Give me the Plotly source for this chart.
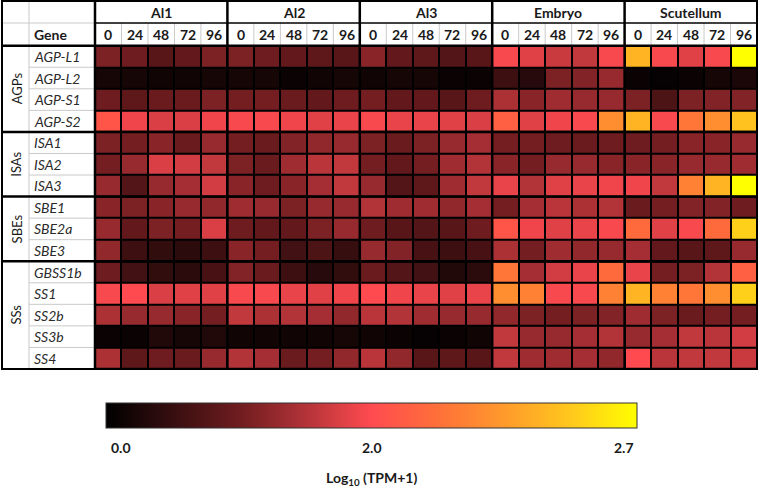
import plotly.graph_objects as go

W, H = 763, 492

genes = ["AGP-L1", "AGP-L2", "AGP-S1", "AGP-S2", "ISA1", "ISA2", "ISA3",
         "SBE1", "SBE2a", "SBE3", "GBSS1b", "SS1", "SS2b", "SS3b", "SS4"]
families = [("AGPs", 0, 3), ("ISAs", 4, 6), ("SBEs", 7, 9), ("SSs", 10, 14)]
tissues = ["Al1", "Al2", "Al3", "Embryo", "Scutellum"]
hours = ["0", "24", "48", "72", "96"]

# log10(TPM+1), rows = genes, cols = hours
al1 = [[1.1, 1.0, 0.8, 0.9, 1.1], [0.2, 0.2, 0.15, 0.15, 0.2], [1.0, 0.85, 0.95, 0.95, 1.1],
       [2.05, 1.9, 1.75, 1.75, 1.9], [1.1, 1.05, 1.2, 0.95, 1.3], [1.05, 1.3, 1.75, 1.7, 1.6],
       [1.3, 0.75, 1.3, 1.4, 1.7], [1.2, 1.1, 1.2, 1.3, 1.25], [1.3, 0.9, 1.1, 1.05, 1.75],
       [1.25, 0.55, 0.45, 0.4, 0.55], [1.0, 0.6, 0.45, 0.4, 0.65], [1.95, 2.0, 1.75, 1.8, 1.8],
       [1.45, 1.3, 1.3, 1.2, 1.05], [0.1, 0.1, 0.3, 0.2, 0.3], [1.45, 0.85, 1.0, 0.95, 1.3]]
al2 = [[1.1, 1.0, 0.9, 0.85, 0.8], [0.2, 0.2, 0.1, 0.15, 0.2], [1.05, 1.05, 0.95, 0.9, 1.0],
       [1.95, 1.95, 1.9, 1.8, 1.85], [1.05, 0.95, 1.15, 1.25, 1.3], [1.1, 0.95, 1.35, 1.55, 1.6],
       [1.2, 1.0, 1.2, 1.4, 1.6], [1.35, 1.3, 1.1, 1.3, 1.3], [1.0, 0.9, 0.9, 1.1, 1.3],
       [1.2, 1.05, 0.6, 0.7, 0.5], [1.15, 0.95, 0.55, 0.35, 0.45], [1.95, 1.95, 1.85, 1.8, 1.9],
       [1.6, 1.45, 1.5, 1.4, 1.25], [0.15, 0.15, 0.15, 0.15, 0.2], [1.5, 1.4, 0.95, 1.05, 1.25]]
al3 = [[1.2, 0.9, 0.85, 0.75, 0.8], [0.15, 0.2, 0.2, 0.1, 0.1], [1.05, 0.9, 0.9, 0.8, 1.0],
       [1.95, 1.85, 1.85, 1.8, 1.75], [1.1, 0.95, 1.1, 1.3, 1.4], [1.05, 0.9, 1.05, 1.35, 1.5],
       [1.3, 0.75, 0.85, 1.35, 1.6], [1.5, 1.35, 1.35, 1.25, 1.4], [1.0, 0.8, 0.75, 0.8, 1.0],
       [1.3, 1.15, 0.65, 0.55, 0.65], [0.95, 0.75, 0.6, 0.3, 0.4], [2.0, 1.9, 1.85, 1.8, 1.85],
       [1.55, 1.5, 1.35, 1.3, 1.3], [0.15, 0.1, 0.05, 0.1, 0.15], [1.55, 1.25, 0.8, 0.85, 0.8]]
embryo = [[1.95, 1.8, 1.65, 1.6, 1.95], [0.55, 0.35, 1.1, 1.15, 1.3], [1.45, 1.2, 1.35, 1.3, 1.3],
          [2.1, 1.8, 1.9, 1.95, 2.3], [1.05, 1.05, 1.0, 0.95, 1.0], [1.2, 1.05, 1.3, 1.3, 1.2],
          [1.85, 1.5, 1.8, 1.85, 1.9], [1.05, 1.4, 1.55, 1.45, 1.5], [2.05, 1.9, 1.8, 1.85, 1.95],
          [1.45, 1.05, 1.35, 1.25, 1.3], [2.2, 1.4, 1.7, 1.85, 2.15], [2.3, 2.25, 1.95, 1.95, 2.25],
          [1.25, 1.1, 1.05, 1.1, 1.15], [1.6, 1.3, 1.3, 1.4, 1.5], [1.6, 1.35, 1.35, 1.4, 1.25]]
scutellum = [[2.45, 1.95, 1.8, 1.95, 2.7], [0.1, 0.05, 0.1, 0.2, 0.25], [1.1, 0.7, 1.1, 1.15, 1.15],
             [2.45, 1.95, 2.2, 2.3, 2.5], [1.0, 1.05, 1.2, 1.2, 1.3], [1.2, 1.2, 1.3, 1.3, 1.35],
             [1.9, 1.6, 2.25, 2.45, 2.7], [0.95, 1.05, 1.15, 1.15, 1.0], [2.15, 1.8, 1.95, 2.15, 2.55],
             [1.4, 0.9, 0.8, 0.85, 1.3], [1.85, 1.05, 1.1, 1.5, 2.1], [2.45, 2.25, 2.2, 2.3, 2.55],
             [1.35, 1.1, 0.95, 1.05, 1.05], [1.3, 1.4, 1.6, 1.55, 1.7], [2.0, 1.55, 1.6, 1.6, 1.65]]

cbar_ticks = [0.0, 2.0, 2.7]
cbar_title = "Log<sub>10</sub> (TPM+1)"

tissue_data = [al1, al2, al3, embryo, scutellum]
cols = [f"{t} {h}" for t in tissues for h in hours]


def bar_pos(v):
    # colour bar: 0 -> left, 2.0 -> middle, 2.7 -> right
    if v <= 2.0:
        return v / 2.0 * 0.5
    return 0.5 + (v - 2.0) / 0.7 * 0.5


vals = []
for g in range(len(genes)):
    r = []
    for d in tissue_data:
        r.extend(d[g])
    vals.append(r)
z = [[bar_pos(v) for v in r] for r in vals]

colorscale = [[0.0, "#000000"], [0.25, "#6E1C1F"], [0.375, "#B23338"], [0.5, "#FF4B50"],
              [0.62, "#FF6E3A"], [0.75, "#FF9A2C"], [0.88, "#FFCA1C"], [1.0, "#FFFF00"]]


def px(x):
    return x / W


def py(y):
    return 1 - y / H


TOP, HDR1, HDR2, BOT = 1, 23, 45.7, 369
LEFT, CATX, GENEX, RIGHT = 2, 29, 95, 757
CB_L, CB_R, CB_T, CB_B = 106, 637, 403, 428

fig = go.Figure()
fig.add_trace(go.Heatmap(
    z=z, x=cols, y=genes, zmin=0, zmax=1, colorscale=colorscale,
    xgap=2, ygap=2, hoverinfo="skip",
    colorbar=dict(orientation="h", x=px((CB_L + CB_R) / 2), xanchor="center",
                  y=py(CB_T), yanchor="top", lenmode="pixels", len=CB_R - CB_L,
                  thicknessmode="pixels", thickness=CB_B - CB_T, xpad=0, ypad=0,
                  outlinewidth=1, outlinecolor="#333", showticklabels=False, ticks=""),
))

font = "Lato, 'Open Sans', sans-serif"
tc = "#1a1a1a"
ann = []


def label(text, x, y, xref="paper", yref="paper", xanchor="center", size=14, color=tc, angle=0):
    ann.append(dict(x=x, y=y, xref=xref, yref=yref, xanchor=xanchor, yanchor="middle",
                    text=text, showarrow=False, textangle=angle,
                    font=dict(family=font, size=size, color=color)))


for i, t in enumerate(tissues):
    label(f"<b>{t}</b>", i * 5 + 2, py((TOP + HDR1) / 2 + 0.5), xref="x")
for j, c in enumerate(cols):
    label(f"<b>{hours[j % 5]}</b>", c, py((HDR1 + HDR2) / 2 + 0.5), xref="x")
label("<b>Gene</b>", px(32), py((HDR1 + HDR2) / 2 + 0.5), xanchor="left")
for g in genes:
    label(f"<i>{g}</i>", px(32), g, yref="y", xanchor="left", color="#2a2a2a")
for name, a, b in families:
    label(name, px((LEFT + CATX) / 2 + 1), (a + b) / 2, yref="y", size=13, angle=-90)
# colour bar labels
label(f"<b>{cbar_ticks[0]:.1f}</b>", px(CB_L + 3), py(447), xanchor="left")
label(f"<b>{cbar_ticks[1]:.1f}</b>", px(CB_L + bar_pos(cbar_ticks[1]) * (CB_R - CB_L)), py(447))
label(f"<b>{cbar_ticks[2]:.1f}</b>", px(CB_R - 1), py(447), xanchor="right")
label(f"<b>{cbar_title}</b>", px((CB_L + CB_R) / 2), py(478))

shapes = []
gray = "#c9c9c9"


def hline(y, x0, x1, color, w, yref="paper", xref="paper"):
    shapes.append(dict(type="line", xref=xref, yref=yref, x0=x0, x1=x1, y0=y, y1=y,
                       line=dict(color=color, width=w)))


def vline(x, y0, y1, color, w, xref="paper", yref="paper"):
    shapes.append(dict(type="line", xref=xref, yref=yref, x0=x, x1=x, y0=y0, y1=y1,
                       line=dict(color=color, width=w)))


# light gray rules in label area
vline(px(CATX), py(TOP), py(BOT), gray, 1)
hline(py(HDR1), px(LEFT), px(GENEX), gray, 1)
boundaries = {b for _, a, b in families}
for i in range(len(genes) - 1):
    if i not in boundaries:
        hline(i + 0.5, px(CATX), px(GENEX), gray, 1, yref="y")
# header row 2 separators within groups
for j in range(len(cols) - 1):
    if j % 5 != 4:
        vline(j + 0.5, py(HDR1), py(HDR2), gray, 1, xref="x")
    vline(j + 0.5, py(0), py(TOP + 1), gray, 1, xref="x")
# black rules
hline(py(HDR1), px(GENEX), px(RIGHT), "black", 1.5)
hline(py(HDR2), px(LEFT), px(RIGHT), "black", 2.5)
for _, a, b in families[:-1]:
    hline(b + 0.5, px(LEFT), px(RIGHT), "black", 2.5, yref="y")
vline(px(GENEX), py(TOP), py(BOT), "black", 2.5)
for k in range(1, len(tissues)):
    vline(k * 5 - 0.5, py(TOP), py(BOT), "black", 2.5, xref="x")
shapes.append(dict(type="rect", xref="paper", yref="paper", x0=px(LEFT), x1=px(RIGHT),
                   y0=py(BOT), y1=py(TOP), line=dict(color="black", width=2)))

fig.update_layout(
    width=W, height=H, margin=dict(l=0, r=0, t=0, b=0, pad=0, autoexpand=False),
    paper_bgcolor="white", plot_bgcolor="black",
    xaxis=dict(domain=[px(GENEX), px(RIGHT)], range=[-0.5, len(cols) - 0.5], visible=False,
               categoryorder="array", categoryarray=cols),
    yaxis=dict(domain=[py(BOT), py(HDR2)], range=[len(genes) - 0.5, -0.5], visible=False,
               categoryorder="array", categoryarray=genes),
    annotations=ann, shapes=shapes, showlegend=False,
)
fig.write_html("out.html", config={"displayModeBar": False},
               post_script="document.body.style.margin='0';document.body.style.overflow='hidden';")
